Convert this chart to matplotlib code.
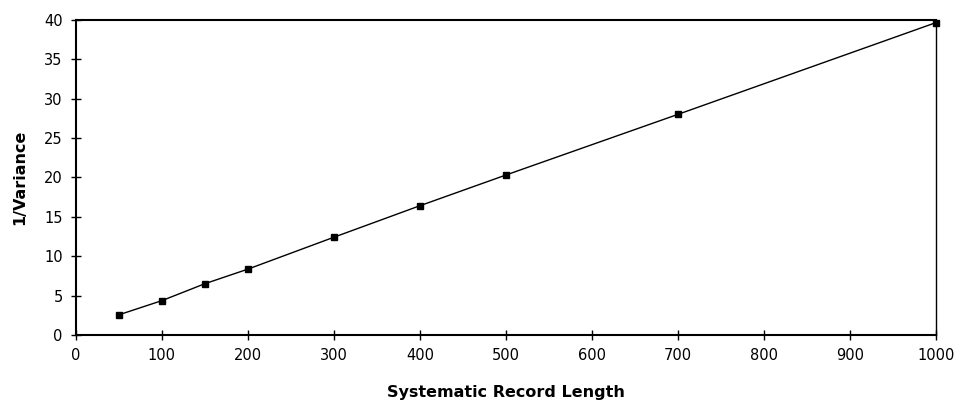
import matplotlib
matplotlib.use("Agg")
import matplotlib.pyplot as plt

# Values
record_length = [50, 100, 150, 200, 300, 400, 500, 700, 1000]
inv_variance = [2.55, 4.35, 6.5, 8.35, 12.4, 16.4, 20.3, 28.0, 39.65]

x_ticks = [0, 100, 200, 300, 400, 500, 600, 700, 800, 900, 1000]
y_ticks = [0, 5, 10, 15, 20, 25, 30, 35, 40]

fig = plt.figure(figsize=(9.59, 4.05), dpi=100)
ax = fig.add_axes([0.079, 0.173, 0.897, 0.778])

ax.plot(record_length, inv_variance, color="black", linewidth=1.0,
        marker="s", markersize=4.5, markerfacecolor="black",
        markeredgecolor="black", clip_on=False)

ax.set_xlim(0, 1000)
ax.set_ylim(0, 40)
ax.set_xticks(x_ticks)
ax.set_yticks(y_ticks)
ax.tick_params(axis="both", direction="inout", length=7, width=1.0,
               labelsize=10.5, colors="black")
ax.tick_params(axis="x", pad=6)
ax.tick_params(axis="y", pad=6)

for side in ("left", "bottom", "top"):
    ax.spines[side].set_linewidth(1.5)
ax.spines["right"].set_linewidth(1.0)

ax.set_xlabel("Systematic Record Length", fontsize=11.5, fontweight="bold",
              labelpad=16)
ax.set_ylabel("1/Variance", fontsize=11.5, fontweight="bold", labelpad=12)

fig.savefig("out.png", dpi=100, facecolor="white")
plt.close(fig)
